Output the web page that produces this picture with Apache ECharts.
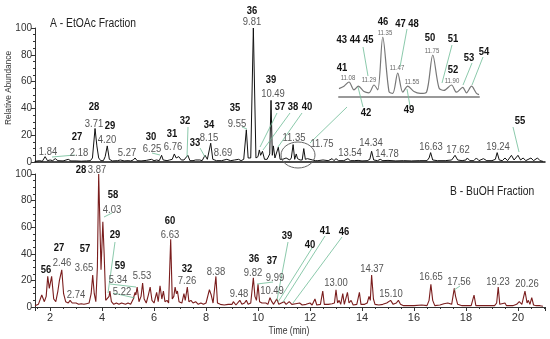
<!DOCTYPE html>
<html><head><meta charset="utf-8">
<script src="https://cdn.jsdelivr.net/npm/echarts@6/dist/echarts.min.js"></script>
<style>html,body{margin:0;padding:0;background:#fff}#c{width:550px;height:339px}</style>
</head><body><div id="c"></div>
<script>
// ---------- DATA ----------
// Panel A (EtOAc) trace: [time (min), relative abundance]
const traceA = [[1.42,0.5],[1.6,1],[1.7,0.5],[1.81,4],[1.9,1],[2.0,1.5],[2.1,1],[2.2,2.5],[2.3,1],[2.5,0.8],[2.7,2],[2.8,0.8],[3.0,0.8],[3.2,0.6],[3.4,0.8],[3.55,1],[3.63,3],[3.73,25],[3.8,12],[3.87,3],[3.95,1],[4.05,1],[4.12,4],[4.2,12],[4.28,2],[4.4,0.8],[4.6,1],[4.7,1.5],[4.85,0.8],[5.0,1],[5.1,0.8],[5.2,1.5],[5.27,3],[5.35,1],[5.5,0.8],[5.7,1.2],[5.9,2],[6.0,1],[6.1,1.5],[6.2,1],[6.29,5],[6.35,1.5],[6.5,1],[6.6,1.5],[6.7,2],[6.78,6],[6.85,3],[6.95,4],[7.05,1.5],[7.15,1.5],[7.3,5],[7.38,1],[7.5,1],[7.6,1.5],[7.76,1.5],[7.85,1],[7.96,5],[8.05,2],[8.18,14],[8.26,2],[8.4,1],[8.47,2],[8.6,1],[8.8,2],[8.95,1],[9.1,1.5],[9.25,2],[9.35,1],[9.45,2],[9.55,24],[9.62,3],[9.72,3],[9.82,100],[9.92,3],[10.0,4],[10.05,9],[10.1,5],[10.17,8],[10.25,2],[10.35,2],[10.45,6],[10.5,46],[10.55,5],[10.59,12],[10.65,3],[10.72,4],[10.78,11],[10.85,2],[10.95,2],[11.0,3],[11.08,3],[11.15,2.5],[11.22,1.5],[11.28,3],[11.35,13],[11.41,2],[11.47,6],[11.52,2.5],[11.55,3],[11.62,1.5],[11.7,1.5],[11.76,10],[11.82,2],[11.9,2.5],[12.0,2],[12.1,1.5],[12.2,1],[12.3,1],[12.5,1.5],[12.7,1],[12.85,2.5],[12.92,1],[13.0,2.5],[13.1,1],[13.3,1],[13.46,2.5],[13.55,1],[13.7,1],[13.85,1.2],[14.0,0.8],[14.2,1],[14.3,2],[14.37,8],[14.45,1.5],[14.6,1],[14.7,2],[14.8,1],[15.0,1.2],[15.3,0.8],[15.6,1],[15.9,0.8],[16.2,1],[16.5,1],[16.58,3],[16.64,7],[16.72,1.5],[16.9,1],[17.2,1],[17.45,1.5],[17.58,5],[17.68,1.5],[17.85,1],[18.0,1.5],[18.05,3],[18.15,1],[18.3,1],[18.4,3],[18.5,1],[18.67,2.5],[18.8,1],[19.0,1],[19.13,2],[19.2,7],[19.28,1.5],[19.4,1],[19.5,3],[19.6,1],[19.75,5],[19.85,1.5],[20.0,5],[20.1,1.5],[20.2,3],[20.3,1],[20.5,3],[20.6,1],[20.75,3],[20.85,1],[20.96,0.5]];

// Panel B (BuOH) trace
const traceB = [[1.42,1],[1.55,2],[1.68,9],[1.78,4],[1.85,8],[1.91,23],[1.97,14],[2.0,15],[2.06,23],[2.14,6],[2.22,4],[2.3,12],[2.36,20],[2.45,28],[2.52,10],[2.6,4],[2.7,3],[2.77,5],[2.85,3],[3.0,3],[3.1,2],[3.2,2.5],[3.3,2],[3.4,2.5],[3.5,3],[3.58,10],[3.64,24],[3.7,10],[3.76,4],[3.82,30],[3.87,100],[3.92,60],[3.96,28],[4.03,64],[4.08,40],[4.14,5],[4.2,4],[4.27,8],[4.3,12],[4.36,4],[4.45,2],[4.55,3],[4.65,2],[4.75,3],[4.9,2],[5.0,3],[5.1,2],[5.2,6],[5.27,11],[5.3,9],[5.35,15],[5.42,4],[5.5,8],[5.56,18],[5.62,6],[5.7,3],[5.78,9],[5.85,15],[5.92,5],[6.0,3],[6.05,7],[6.1,11],[6.16,4],[6.23,16],[6.3,6],[6.36,12],[6.42,4],[6.5,5],[6.56,3],[6.64,51],[6.7,6],[6.76,8],[6.81,15],[6.86,10],[6.9,12],[6.96,4],[7.07,3],[7.15,10],[7.2,5],[7.28,15],[7.34,4],[7.42,5],[7.5,3],[7.6,4],[7.7,2],[7.8,3],[7.9,2],[8.0,3],[8.13,13],[8.2,9],[8.27,3],[8.33,4],[8.38,23],[8.44,3],[8.55,2],[8.7,1.5],[8.85,2],[9.0,2],[9.05,4],[9.15,1.5],[9.3,5],[9.38,2],[9.48,3],[9.55,5],[9.62,2],[9.72,3],[9.82,22],[9.88,8],[9.94,5],[10.0,17],[10.06,4],[10.15,3],[10.22,2],[10.3,3],[10.38,2],[10.46,7],[10.53,4],[10.6,2],[10.72,6],[10.8,2],[10.9,3],[11.0,4],[11.08,2],[11.2,4],[11.3,2],[11.45,2.5],[11.6,3],[11.7,1.5],[11.85,2],[12.0,3],[12.08,1.5],[12.19,6],[12.26,1.5],[12.4,2],[12.49,12],[12.55,2],[12.7,2],[12.85,2.5],[12.94,3],[13.0,13],[13.06,3],[13.12,5],[13.18,2],[13.26,10],[13.32,2],[13.38,3],[13.44,11],[13.5,3],[13.58,5],[13.66,1.5],[13.8,2],[13.9,11],[13.96,2],[14.1,2],[14.2,3],[14.27,8],[14.32,5],[14.37,24],[14.44,6],[14.5,2],[14.65,1.5],[14.8,2],[14.95,3],[15.02,3.5],[15.1,5],[15.2,2],[15.32,3],[15.4,5],[15.48,2],[15.6,1],[15.8,1],[16.0,1],[16.3,1.5],[16.5,1],[16.58,5],[16.65,17],[16.72,5],[16.8,1],[17.0,1.5],[17.15,2.5],[17.3,3],[17.45,2],[17.55,14],[17.6,8],[17.68,2],[17.85,1],[18.0,1],[18.2,1],[18.31,9],[18.38,1],[18.6,1],[18.9,1],[19.1,1],[19.18,3],[19.24,15],[19.3,2],[19.5,3],[19.56,1],[19.8,1],[19.95,2],[20.05,4],[20.15,2],[20.27,12],[20.35,3],[20.4,5],[20.46,2],[20.53,7],[20.6,1.5],[20.7,1],[20.85,1],[20.96,0.5]];

// Inset (zoom of panel A, 11.0-12.1 min)
const traceInset = [[11.0,14],[11.04,18],[11.08,25],[11.12,12],[11.155,18],[11.2,9],[11.24,7],[11.28,20],[11.31,12],[11.35,100],[11.4,9],[11.43,6],[11.47,40],[11.51,8],[11.55,18],[11.6,9],[11.65,6],[11.7,8],[11.75,70],[11.8,15],[11.84,11],[11.9,20],[11.94,8],[11.99,16],[12.02,7],[12.06,18],[12.1,6],[12.12,4]];

const yTickValues = [0, 20, 40, 60, 80, 100];
const xTickValues = [2, 4, 6, 8, 10, 12, 14, 16, 18, 20];

// Peak number labels and retention-time labels (text only)
const peakNumsA = ['36','28','29','27','30','31','32','33','34','35','39','37','38','40','55'];
const rtA = ['9.81','3.71','4.20','2.18','1.84','6.25','6.76','5.27','8.15','8.69','9.55','10.49','11.35','11.75','13.54','14.34','14.78','16.63','17.62','19.24'];
const peakNumsInset = ['41','43 44 45','42','46','47 48','49','50','51','52','53','54'];
const rtInset = ['11.08','11.29','11.35','11.47','11.55','11.75','11.90'];
const peakNumsB = ['28','58','60','29','27','57','56','59','32','36','37','39','40','41','46'];
const rtB = ['3.87','4.03','6.63','2.46','3.65','5.34','5.22','5.53','2.74','7.26','8.38','9.48','9.82','9.99','10.49','13.00','14.37','15.10','16.65','17.56','19.23','20.26'];

// ---------- LAYOUT (pixel positions of annotations) ----------
const posPeakNumsA = [[252,11],[94,107],[110,126],[77,137],[151,137],[172,134],[185,121],[195,143],[209,125],[235,108],[271,80],[280,107],[293,107],[307,107],[520,121]];
const posRtA = [[252,22],[94,124],[107,140],[79,153],[48,152],[152,149],[173,147],[127,153],[209,138],[223,153],[237,124],[273,94],[294,138],[322,144],[350,153],[371,143],[387,154],[431,147],[458,150],[498,147]];
const posPeakNumsInset = [[342,68],[355,40],[366,113],[383,22],[407,24],[409,110],[430,38],[453,39],[453,70],[469,58],[484,52]];
const posRtInset = [[348,78],[369,80],[385,33],[397,68],[412,82],[432,51],[452,81]];
const posPeakNumsB = [[81,170],[113,195],[170,221],[115,235],[59,248],[85,249],[46,270],[120,266],[187,269],[254,259],[272,261],[287,236],[310,245],[325,231],[344,232]];
const posRtB = [[97,170],[112,210],[170,235],[62,263],[84,268],[118,280],[122,292],[142,276],[76,295],[187,281],[216,272],[239,294],[253,273],[275,278],[272,291],[336,283],[372,269],[391,294],[431,277],[459,282],[498,282],[527,284]];
const leaders = [[52,157,75,155],[152,153,160,155],[188,127,187,157],[200,148,205,157],[242,127,247,129],[277,113,260,147],[290,113,263,150],[302,113,278,147],[347,107,310,143],[513,127,519,152],
  [363,47,368,76],[358,87,363,107],[407,29,400,67],[407,89,410,106],[452,45,442,83],[472,63,463,85],[483,57,472,85],
  [104,217,112,213],[115,242,108,293],[110,284,136,287],[113,293,135,298],[257,284,273,282],[288,242,277,300],[312,248,278,302],[325,236,283,302],[342,237,293,303],[454,290,460,286]];

const FONT = '"Liberation Sans", Arial, sans-serif';
const SX = 0.86; // horizontal squeeze of the reference's lettering
const graphics = [];
function addTexts(texts, pos, style) {
  texts.forEach((t, i) => {
    graphics.push({type:'text', z:100, x: pos[i][0], y: pos[i][1], scaleX: SX,
      style: Object.assign({text: t, align:'center', verticalAlign:'middle', fontFamily: FONT}, style)});
  });
}
leaders.forEach(l => graphics.push({type:'line', z:90, shape:{x1:l[0],y1:l[1],x2:l[2],y2:l[3]}, style:{stroke:'#6dbb95', lineWidth:0.8}}));
addTexts(peakNumsA, posPeakNumsA, {fill:'#111', fontSize:11, fontWeight:'bold'});
addTexts(rtA, posRtA, {fill:'#555', fontSize:11});
addTexts(peakNumsInset, posPeakNumsInset, {fill:'#111', fontSize:11, fontWeight:'bold'});
addTexts(rtInset, posRtInset, {fill:'#666', fontSize:7});
addTexts(peakNumsB, posPeakNumsB, {fill:'#111', fontSize:11, fontWeight:'bold'});
addTexts(rtB, posRtB, {fill:'#555', fontSize:11});
graphics.push({type:'ellipse', z:90, shape:{cx:298, cy:155, rx:17, ry:13}, style:{stroke:'#666', fill:'none', lineWidth:1}});
graphics.push({type:'text', x:50, y:24, scaleX:SX, style:{text:'A - EtOAc Fraction', fontSize:12, fontFamily:FONT, fill:'#222', verticalAlign:'middle'}});
graphics.push({type:'text', x:450, y:192, scaleX:SX, style:{text:'B - BuOH Fraction', fontSize:12, fontFamily:FONT, fill:'#222', verticalAlign:'middle'}});
graphics.push({type:'text', x:9, y:88, rotation:Math.PI/2, scaleX:0.92, style:{text:'Relative Abundance', fontSize:9, fontFamily:FONT, fill:'#333', align:'center', verticalAlign:'middle'}});
graphics.push({type:'text', x:289, y:331, scaleX:SX, style:{text:'Time (min)', fontSize:10, fontFamily:FONT, fill:'#333', align:'center', verticalAlign:'middle'}});

function yAxis(gi) {
  return {type:'value', gridIndex:gi, min:0, max:100, interval:20,
    axisLine:{show:true, lineStyle:{color:'#333', width:1}},
    axisTick:{show:true, length:4, lineStyle:{color:'#333'}},
    minorTick:{show:true, splitNumber:4, length:2, lineStyle:{color:'#333'}},
    axisLabel:{fontSize:10, color:'#333', fontFamily:FONT, margin:3,
      formatter: v => yTickValues.includes(v) ? String(v) : ''},
    splitLine:{show:false}};
}
const XMIN = 1.42, XMAX = 21.04;

const option = {
  animation:false,
  backgroundColor:'#fff',
  grid:[
    {left:35, right:5, top:28, height:134},
    {left:35, right:5, top:174, height:133},
    {left:339, width:140, top:37, height:60}
  ],
  xAxis:[
    {type:'value', gridIndex:0, min:XMIN, max:XMAX, splitNumber:10,
      axisLine:{show:true, lineStyle:{color:'#111', width:1.5}}, axisTick:{show:false}, axisLabel:{show:false}, splitLine:{show:false}},
    {type:'value', gridIndex:1, min:XMIN, max:XMAX, splitNumber:10,
      axisLine:{show:true, lineStyle:{color:'#333', width:1}},
      axisTick:{show:true, length:4, lineStyle:{color:'#333'}},
      minorTick:{show:true, splitNumber:4, length:2, lineStyle:{color:'#333'}},
      axisLabel:{fontSize:11, color:'#333', fontFamily:FONT, margin:5, showMinLabel:false, showMaxLabel:false,
        formatter: v => xTickValues.includes(Math.round(v*1000)/1000) ? String(Math.round(v)) : ''},
      splitLine:{show:false}},
    {type:'value', gridIndex:2, min:11.0, max:12.12,
      axisLine:{show:true, lineStyle:{color:'#999', width:2}}, axisTick:{show:false}, axisLabel:{show:false}, splitLine:{show:false}}
  ],
  yAxis:[yAxis(0), yAxis(1),
    {type:'value', gridIndex:2, min:0, max:100, show:false}],
  series:[
    {type:'line', xAxisIndex:0, yAxisIndex:0, data:traceA, symbol:'none', lineStyle:{color:'#111', width:1}},
    {type:'line', xAxisIndex:1, yAxisIndex:1, data:traceB, symbol:'none', lineStyle:{color:'#7a1d1d', width:1.1}},
    {type:'line', xAxisIndex:2, yAxisIndex:2, data:traceInset, symbol:'none', smooth:0.3, lineStyle:{color:'#777', width:1.2}}
  ],
  graphic: graphics
};
const chart = echarts.init(document.getElementById('c'), null, {renderer:'canvas'});
chart.setOption(option);
</script></body></html>
